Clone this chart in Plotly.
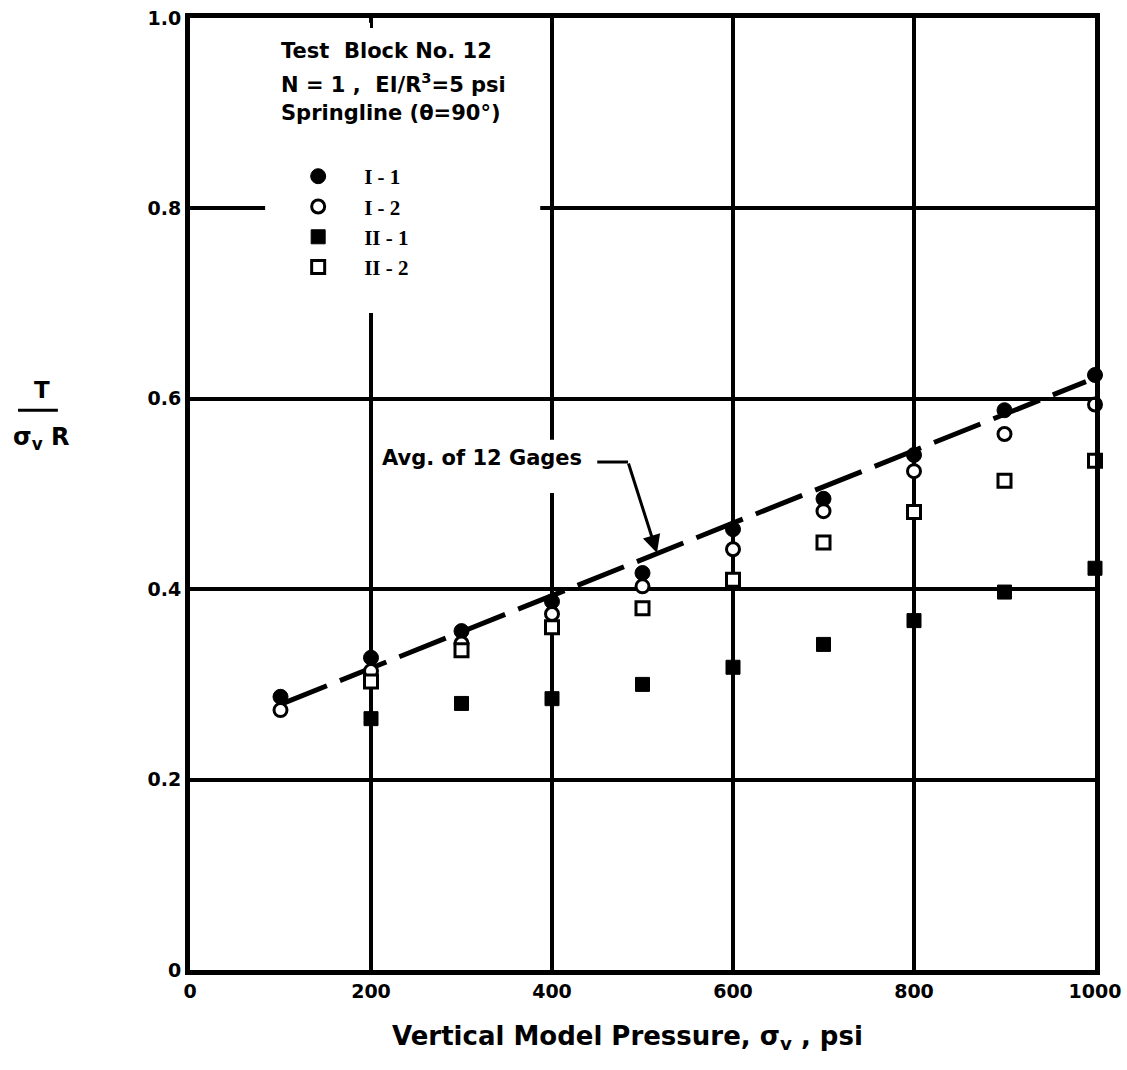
import plotly.graph_objects as go

# Vertical model pressure (psi) at which each gage was read
pressure = [100, 200, 300, 400, 500, 600, 700, 800, 900, 1000]
pressure_ii = [200, 300, 400, 500, 600, 700, 800, 900, 1000]

# Thrust coefficient T / (sigma_v R) for each gage
gage_i1 = [0.287, 0.328, 0.356, 0.387, 0.417, 0.463, 0.495, 0.541, 0.588, 0.625]
gage_i2 = [0.273, 0.314, 0.343, 0.374, 0.403, 0.442, 0.482, 0.524, 0.563, 0.594]
gage_ii1 = [0.264, 0.280, 0.285, 0.300, 0.318, 0.342, 0.367, 0.397, 0.422]
gage_ii2 = [0.303, 0.336, 0.360, 0.380, 0.410, 0.449, 0.481, 0.514, 0.535]

# Average of the 12 gages (straight-line fit)
avg_x = [100, 990]
avg_y = [0.279, 0.618]

x_ticks = [0, 200, 400, 600, 800, 1000]
x_labels = ["0", "200", "400", "600", "800", "1000"]
y_ticks = [0, 0.2, 0.4, 0.6, 0.8, 1.0]
y_labels = ["0", "0.2", "0.4", "0.6", "0.8", "1.0"]

FONT = "DejaVu Sans"
INK = "black"
PAD = "\u00a0\u00a0\u00a0\u00a0"

fig = go.Figure()

fig.add_trace(go.Scatter(
    x=avg_x, y=avg_y, mode="lines", showlegend=False,
    line=dict(color=INK, width=5, dash="50px,14px"),
))

marker_line = dict(color=INK, width=3)
fig.add_trace(go.Scatter(
    x=pressure, y=gage_i1, mode="markers", name=PAD + "I - 1", cliponaxis=False,
    marker=dict(symbol="circle", size=15, color=INK, line=dict(color=INK, width=1)),
))
fig.add_trace(go.Scatter(
    x=pressure, y=gage_i2, mode="markers", name=PAD + "I - 2", cliponaxis=False,
    marker=dict(symbol="circle", size=13, color="white", line=marker_line),
))
fig.add_trace(go.Scatter(
    x=pressure_ii, y=gage_ii1, mode="markers", name=PAD + "II - 1", cliponaxis=False,
    marker=dict(symbol="square", size=14, color=INK, line=dict(color=INK, width=1)),
))
fig.add_trace(go.Scatter(
    x=pressure_ii, y=gage_ii2, mode="markers", name=PAD + "II - 2", cliponaxis=False,
    marker=dict(symbol="square", size=13, color="white", line=marker_line),
))

# Clear areas behind the heading/legend and the average-line label
fig.add_shape(type="rect", x0=83, x1=387, y0=0.69, y1=0.995,
              xref="x", yref="y", layer="between",
              fillcolor="white", line=dict(width=0))
fig.add_shape(type="rect", x0=210, x1=442, y0=0.501, y1=0.557,
              xref="x", yref="y", layer="between",
              fillcolor="white", line=dict(width=0))

# Heading text
heading = [
    ("Test  Block No. 12", 0.965),
    ("N = 1 ,  EI/R<sup>3</sup>=5 psi", 0.932),
    ("Springline (θ=90°)", 0.900),
]
for text, yv in heading:
    fig.add_annotation(x=98, y=yv, xref="x", yref="y", text=text,
                       showarrow=False, xanchor="left", yanchor="middle",
                       font=dict(family=FONT, size=21, color=INK, weight="bold"))

# Label and bent leader for the average line
fig.add_annotation(x=210, y=0.538, xref="x", yref="y", text="Avg. of 12 Gages",
                   showarrow=False, xanchor="left", yanchor="middle",
                   font=dict(family=FONT, size=21, color=INK, weight="bold"))
fig.add_shape(type="line", x0=450, x1=484, y0=0.5336, y1=0.5336,
              xref="x", yref="y", line=dict(color=INK, width=3))
fig.add_annotation(x=516, y=0.438, ax=484, ay=0.5336, axref="x", ayref="y",
                   xref="x", yref="y", text="", showarrow=True,
                   arrowhead=2, arrowsize=1.2, arrowwidth=3, arrowcolor=INK)

# Y-axis title as a stacked fraction T / (sigma_v R)
fig.add_annotation(x=-0.1635, y=0.609, xref="paper", yref="paper", text="T",
                   showarrow=False, xanchor="center", yanchor="middle",
                   font=dict(family=FONT, size=23, color=INK, weight="bold"))
fig.add_shape(type="line", x0=-0.190, x1=-0.146, y0=0.588, y1=0.588,
              xref="paper", yref="paper", line=dict(color=INK, width=3))
fig.add_annotation(x=-0.164, y=0.558, xref="paper", yref="paper",
                   text="σ<sub>v</sub> R",
                   showarrow=False, xanchor="center", yanchor="middle",
                   font=dict(family=FONT, size=24, color=INK, weight="bold"))

# X-axis title
fig.add_annotation(x=0.483, y=-0.0714, xref="paper", yref="paper",
                   text="Vertical Model Pressure, σ<sub>v</sub> , psi",
                   showarrow=False, xanchor="center", yanchor="middle",
                   font=dict(family=FONT, size=26, color=INK, weight="bold"))

axis_common = dict(
    showgrid=True, gridcolor=INK, gridwidth=3.5,
    showline=True, linecolor=INK, linewidth=5, mirror="ticks",
    ticks="inside", ticklen=10, tickwidth=3, tickcolor=INK,
    zeroline=False, automargin=False,
    tickfont=dict(family=FONT, size=19, color=INK, weight="bold"),
)

fig.update_xaxes(range=[0, 1000], tickvals=x_ticks, ticktext=x_labels, **axis_common)
fig.update_yaxes(range=[0, 1.0], tickvals=y_ticks, ticktext=y_labels, **axis_common)

fig.update_layout(
    width=1127, height=1070,
    margin=dict(l=190, r=32, t=18, b=100, autoexpand=False),
    paper_bgcolor="white", plot_bgcolor="white",
    showlegend=True,
    legend=dict(
        x=0.114, y=0.855, xanchor="left", yanchor="top",
        bgcolor="rgba(0,0,0,0)", borderwidth=0,
        font=dict(family="Liberation Serif", size=21, color=INK, weight="bold"),
        itemwidth=40, tracegroupgap=0,
    ),
)

fig.write_html("out.html")
